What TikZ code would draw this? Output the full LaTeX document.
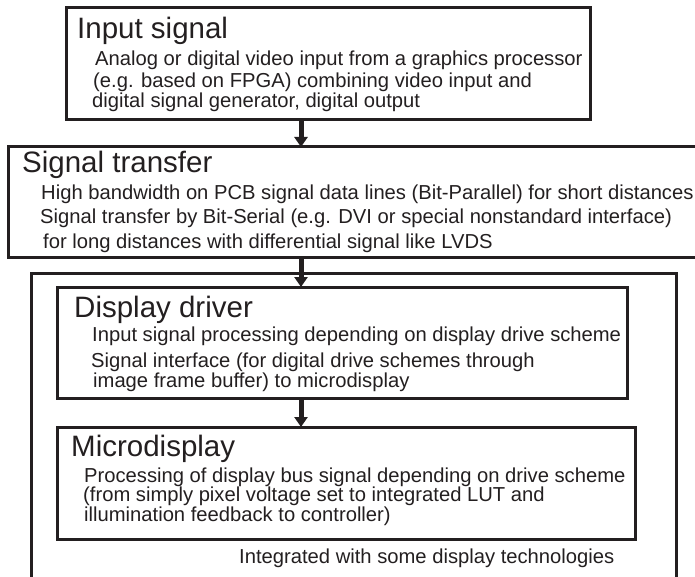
\documentclass[tikz,border=0pt]{standalone}
\usepackage{fontspec}
\setmainfont{Liberation Sans}
\usetikzlibrary{arrows.meta}
\definecolor{ink}{RGB}{35,31,32}
\begin{document}
\begin{tikzpicture}[x=1pt,y=-1pt,
  box/.style={draw=ink, line width=3pt, inner sep=0pt, outer sep=0pt, anchor=north west},
  ttl/.style={anchor=base west, inner sep=0pt, font=\fontsize{29.5}{30}\selectfont, text=ink},
  txt/.style={anchor=base west, inner sep=0pt, font=\fontsize{20.2}{22}\selectfont, text=ink},
  arr/.style={draw=ink, line width=5pt, -{Triangle[width=13pt,length=10pt]}},
  frame/.style={draw=ink, line width=3pt}]
\useasboundingbox (0,0) rectangle (695,577);
\clip (0,0) rectangle (695,577);
\fill[white] (0,0) rectangle (695,577);
\coordinate (ax) at (301,0);

% outer frame (integrated part)
\draw[frame] (31,585) |- (676,273) -- (676,585);

% boxes
\node[box, minimum width=524pt, minimum height=112pt] (input) at (66,8) {};
\node[box, minimum width=712pt, minimum height=110pt] (transfer) at (8,147) {};
\node[box, minimum width=570pt, minimum height=111pt] (driver) at (57,287) {};
\node[box, minimum width=578pt, minimum height=112pt] (micro) at (57,427) {};

% texts
\node[ttl] (t1) at (77,39) {Input signal};
\node[txt] (t1a) at (95,66) {Analog or digital video input from a graphics processor};
\node[txt] (t1b) at (93,88) {(e.g. based on FPGA) combining video input and};
\node[txt] (t1c) at (92,107.5) {digital signal generator, digital output};

\node[ttl] (t2) at (22,173) {Signal transfer};
\node[txt] (t2a) at (41,200) {High bandwidth on PCB signal data lines (Bit-Parallel) for short distances};
\node[txt] (t2b) at (40,223) {Signal transfer by Bit-Serial (e.g. DVI or special nonstandard interface)};
\node[txt] (t2c) at (43,248) {for long distances with differential signal like LVDS};

\node[ttl] (t3) at (74,317) {Display driver};
\node[txt] (t3a) at (92,341) {Input signal processing depending on display drive scheme};
\node[txt] (t3b) at (91,367) {Signal interface (for digital drive schemes through};
\node[txt] (t3c) at (93,387) {image frame buffer) to microdisplay};

\node[ttl] (t4) at (71,456) {Microdisplay};
\node[txt] (t4a) at (84,482.5) {Processing of display bus signal depending on drive scheme};
\node[txt] (t4b) at (83,501.5) {(from simply pixel voltage set to integrated LUT and};
\node[txt] (t4c) at (84,521) {illumination feedback to controller)};

\node[txt] (t5) at (239,563) {Integrated with some display technologies};

% arrows
\draw[arr] (input.south -| ax) -- (transfer.north -| ax);
\draw[arr] (transfer.south -| ax) -- (driver.north -| ax);
\draw[arr] (driver.south -| ax) -- (micro.north -| ax);
\end{tikzpicture}
\end{document}
